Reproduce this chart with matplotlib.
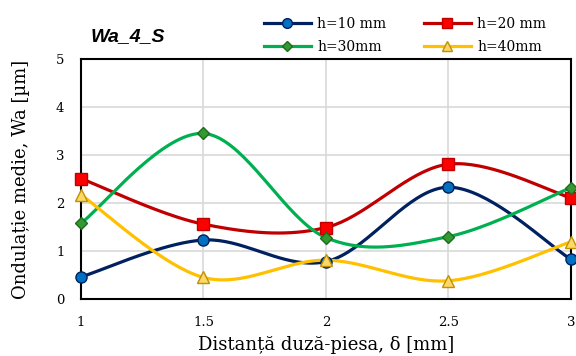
import numpy as np
import matplotlib
matplotlib.use("Agg")
import matplotlib.pyplot as plt
from matplotlib.lines import Line2D

# Nozzle-workpiece distance and mean waviness per nozzle height
distance = [1.0, 1.5, 2.0, 2.5, 3.0]
wa_h10 = [0.46, 1.23, 0.78, 2.33, 0.83]
wa_h20 = [2.51, 1.56, 1.49, 2.81, 2.11]
wa_h30 = [1.58, 3.45, 1.28, 1.30, 2.32]
wa_h40 = [2.17, 0.45, 0.81, 0.38, 1.19]
labels = ["h=10 mm", "h=20 mm", "h=30mm", "h=40mm"]
x_ticks = [1, 1.5, 2, 2.5, 3]
x_tick_labels = ["1", "1.5", "2", "2.5", "3"]
y_ticks = [0, 1, 2, 3, 4, 5]


def smooth(xs, ys, n=40):
    """Catmull-Rom style smoothing through the given points (Bezier segments)."""
    xs = np.asarray(xs, float)
    ys = np.asarray(ys, float)
    px = np.concatenate([[xs[0]], xs, [xs[-1]]])
    py = np.concatenate([[ys[0]], ys, [ys[-1]]])
    out_x, out_y = [], []
    t = np.linspace(0, 1, n)
    for i in range(1, len(px) - 2):
        p0 = np.array([px[i], py[i]])
        p3 = np.array([px[i + 1], py[i + 1]])
        c1 = p0 + (np.array([px[i + 1], py[i + 1]]) - np.array([px[i - 1], py[i - 1]])) / 6
        c2 = p3 - (np.array([px[i + 2], py[i + 2]]) - np.array([px[i], py[i]])) / 6
        b = ((1 - t) ** 3)[:, None] * p0 + (3 * (1 - t) ** 2 * t)[:, None] * c1 \
            + (3 * (1 - t) * t ** 2)[:, None] * c2 + (t ** 3)[:, None] * p3
        out_x.extend(b[:, 0])
        out_y.extend(b[:, 1])
    return np.array(out_x), np.array(out_y)


styles = [
    dict(color="#002060", marker="o", mfc="#0070C0", mec="#002060", ms=8),
    dict(color="#C00000", marker="s", mfc="#FF0000", mec="#C00000", ms=8),
    dict(color="#00B050", marker="D", mfc="#339933", mec="#1E6B1E", ms=6),
    dict(color="#FFC000", marker="^", mfc="#FFD966", mec="#BF9000", ms=8),
]
series = [wa_h10, wa_h20, wa_h30, wa_h40]

fig = plt.figure(figsize=(5.76, 3.56), dpi=100)
ax = fig.add_axes([0.1406, 0.160, 0.8504, 0.674])

serif = "DejaVu Serif"
for ys, st in zip(series, styles):
    sx, sy = smooth(distance, ys)
    ax.plot(sx, sy, color=st["color"], lw=2.3, zorder=3, solid_capstyle="round")
for ys, st in zip(series, styles):
    ax.plot(distance, ys, ls="none", marker=st["marker"], ms=st["ms"],
            mfc=st["mfc"], mec=st["mec"], mew=1.0, zorder=4, clip_on=False)

ax.set_xlim(1, 3)
ax.set_ylim(0, 5)
ax.set_xticks(x_ticks)
ax.set_xticklabels(x_tick_labels, fontfamily=serif, fontsize=9.5)
ax.set_yticks(y_ticks)
ax.set_yticklabels([str(v) for v in y_ticks], fontfamily=serif, fontsize=9.5)
ax.tick_params(length=0, pad=12)
ax.grid(True, color="#D9D9D9", lw=1.2, zorder=0)
ax.set_axisbelow(True)
for s in ax.spines.values():
    s.set_color("black")
    s.set_linewidth(1.5)

ax.set_xlabel("Distanță duză-piesa, δ [mm]", fontfamily=serif, fontsize=13, labelpad=5)
ax.set_ylabel("Ondulație medie, Wa [µm]", fontfamily=serif, fontsize=13, labelpad=4)
ax.yaxis.set_label_coords(-0.105, 0.5)

fig.text(0.157, 0.896, "Wa_4_S", fontfamily="Liberation Sans", fontweight="bold",
         fontstyle="italic", fontsize=14, va="center", ha="left")

handles = [Line2D([], [], color=st["color"], lw=2.3, marker=st["marker"], ms=st["ms"] - 1,
                  mfc=st["mfc"], mec=st["mec"]) for st in styles]
# two columns filled row-wise: (h10, h20) on top, (h30, h40) below
order = [0, 2, 1, 3]
leg = fig.legend([handles[i] for i in order], [labels[i] for i in order], ncol=2,
                 loc="center", bbox_to_anchor=(0.703, 0.900),
                 frameon=False, prop={"family": serif, "size": 10},
                 handlelength=3.4, columnspacing=2.7, labelspacing=0.65, handletextpad=0.45)

fig.savefig("out.png", dpi=100)
